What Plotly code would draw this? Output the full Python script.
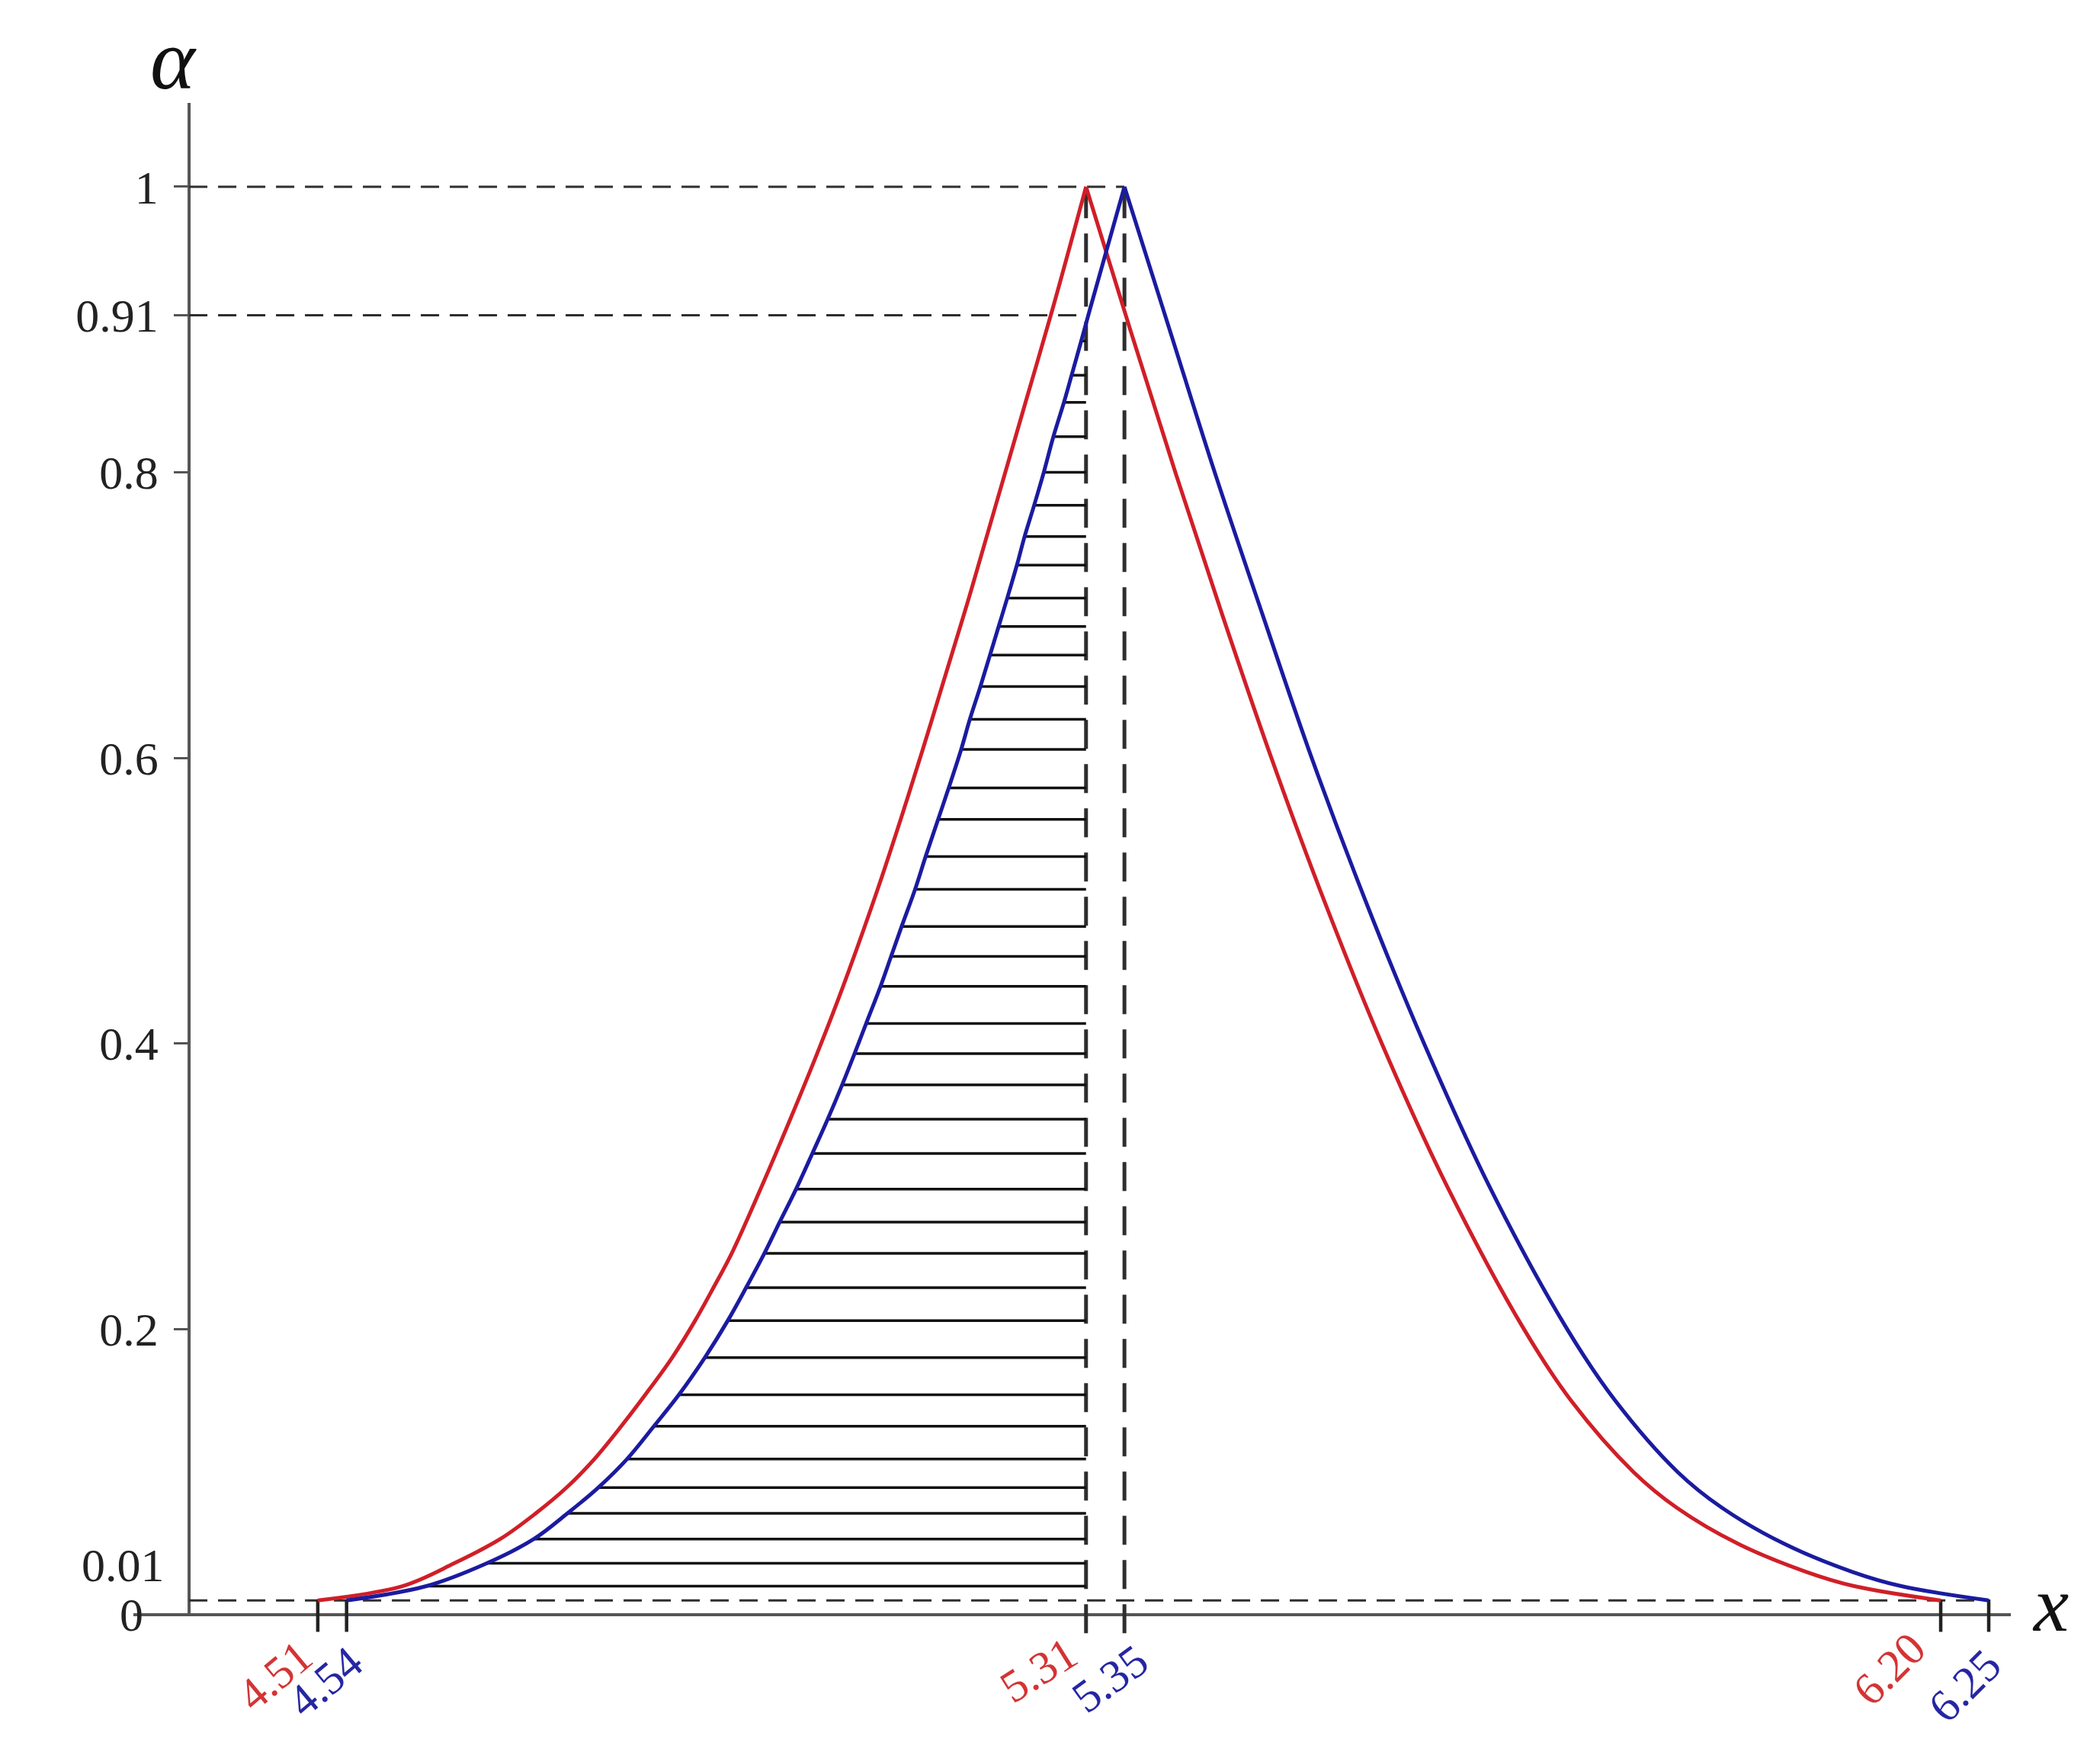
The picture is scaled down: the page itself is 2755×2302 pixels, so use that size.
import plotly.graph_objects as go

# ---------------- data ----------------
# triangular-like fuzzy numbers: (left end, peak, right end)
RED_TFN = [4.51, 5.31, 6.20]
BLUE_TFN = [4.54, 5.35, 6.25]

# red membership curve, left branch (alpha -> x)
RED_LEFT_ALPHA = [0.010, 0.020, 0.036, 0.053, 0.071, 0.089, 0.109, 0.132, 0.154, 0.180,
                  0.206, 0.229, 0.253, 0.298, 0.347, 0.393, 0.440, 0.508, 0.557, 0.606,
                  0.650, 0.712, 0.777, 0.849, 0.914, 1.000]
RED_LEFT_X = [4.510, 4.598, 4.652, 4.700, 4.737, 4.769, 4.798, 4.826, 4.851, 4.879,
              4.903, 4.922, 4.941, 4.971, 5.002, 5.030, 5.057, 5.093, 5.117, 5.140,
              5.160, 5.188, 5.216, 5.247, 5.275, 5.310]

# red membership curve, right branch
RED_RIGHT_ALPHA = [1.0, 0.9, 0.8, 0.7, 0.6, 0.5, 0.4, 0.3, 0.2, 0.15, 0.1, 0.075, 0.05,
                   0.03, 0.02, 0.01]
RED_RIGHT_X = [5.310, 5.356, 5.403, 5.452, 5.503, 5.558, 5.618, 5.686, 5.766, 5.815,
               5.880, 5.925, 5.988, 6.060, 6.110, 6.200]

# blue membership curve, left branch (also the left ends of the hatch lines)
BLUE_LEFT_ALPHA = [0.010, 0.020, 0.036, 0.053, 0.071, 0.089, 0.109, 0.132, 0.154, 0.180,
                   0.206, 0.229, 0.253, 0.275, 0.298, 0.323, 0.347, 0.371, 0.393, 0.414,
                   0.440, 0.461, 0.482, 0.508, 0.531, 0.557, 0.579, 0.606, 0.627, 0.650,
                   0.672, 0.692, 0.712, 0.735, 0.755, 0.777, 0.800, 0.825, 0.849, 0.868,
                   0.892, 0.914, 1.000]
BLUE_LEFT_X = [4.540, 4.623, 4.686, 4.735, 4.770, 4.802, 4.832, 4.860, 4.886, 4.913,
               4.937, 4.956, 4.975, 4.991, 5.008, 5.025, 5.041, 5.056, 5.069, 5.081,
               5.096, 5.107, 5.118, 5.132, 5.143, 5.156, 5.167, 5.180, 5.189, 5.200,
               5.210, 5.219, 5.228, 5.238, 5.246, 5.256, 5.266, 5.276, 5.287, 5.295,
               5.305, 5.314, 5.350]

# blue membership curve, right branch
BLUE_RIGHT_ALPHA = [1.0, 0.9, 0.8, 0.7, 0.6, 0.5, 0.4, 0.3, 0.2, 0.15, 0.1, 0.075, 0.05,
                    0.03, 0.02, 0.01]
BLUE_RIGHT_X = [5.350, 5.397, 5.444, 5.494, 5.545, 5.601, 5.662, 5.730, 5.811, 5.861,
                5.926, 5.972, 6.036, 6.108, 6.159, 6.250]

# alpha levels marked by dashed horizontal lines and their labels
LEVELS = [1.0, 0.91, 0.01]
Y_TICKS = [0.2, 0.4, 0.6, 0.8, 0.91, 1.0]
Y_TICK_TEXT = ["0.2", "0.4", "0.6", "0.8", "0.91", "1"]
X_TICK_TEXT = ["4.51", "4.54", "5.31", "5.35", "6.20", "6.25"]

# ---------------- styling ----------------
FONT = "Liberation Serif"
RED = "#d01f28"
BLUE = "#1b1ba0"
RED_TXT = "#d43434"
BLUE_TXT = "#2626a4"
AXIS_COL = "#555555"
DASH_COL = "#2e2e2e"

X_RANGE = [4.318, 6.273]
Y_RANGE = [-0.0267, 1.0587]
AXIS_X = 4.376                      # where the alpha axis crosses the x axis
AXIS_POS = (AXIS_X - X_RANGE[0]) / (X_RANGE[1] - X_RANGE[0])

fig = go.Figure()

# hatch lines (alpha-cuts from blue left branch to red peak)
hx, hy = [], []
for a, x in zip(BLUE_LEFT_ALPHA[1:-1], BLUE_LEFT_X[1:-1]):
    if x < RED_TFN[1]:
        hx += [x, RED_TFN[1], None]
        hy += [a, a, None]
fig.add_trace(go.Scatter(x=hx, y=hy, mode="lines",
                         line=dict(color="#111111", width=3.5), hoverinfo="skip"))

# membership curves
for xs, ys, col in [(RED_LEFT_X, RED_LEFT_ALPHA, RED), (RED_RIGHT_X, RED_RIGHT_ALPHA, RED),
                    (BLUE_LEFT_X, BLUE_LEFT_ALPHA, BLUE), (BLUE_RIGHT_X, BLUE_RIGHT_ALPHA, BLUE)]:
    fig.add_trace(go.Scatter(x=xs, y=ys, mode="lines",
                             line=dict(color=col, width=5, shape="spline", smoothing=1.0),
                             hoverinfo="skip"))

shapes = []
# axes
shapes.append(dict(type="line", xref="paper", yref="y", x0=0, x1=1, y0=0, y1=0,
                   line=dict(color=AXIS_COL, width=4), layer="below"))
shapes.append(dict(type="line", xref="x", yref="y", x0=AXIS_X, x1=AXIS_X, y0=0, y1=Y_RANGE[1],
                   line=dict(color=AXIS_COL, width=4), layer="below"))
# dashed alpha-level lines
level_ends = [BLUE_TFN[1], RED_TFN[1], BLUE_TFN[2]]
for lv, xe in zip(LEVELS, level_ends):
    shapes.append(dict(type="line", xref="x", yref="y", x0=AXIS_X, x1=xe, y0=lv, y1=lv,
                       line=dict(color=DASH_COL, width=3, dash="24px,14px"), layer="below"))
# dashed vertical lines through the peaks
for xp in [RED_TFN[1], BLUE_TFN[1]]:
    shapes.append(dict(type="line", xref="x", yref="y", x0=xp, x1=xp, y0=-0.013, y1=1.0,
                       line=dict(color=DASH_COL, width=5, dash="38px,20px"), layer="below"))
# short solid ticks at the support ends
for xt in [RED_TFN[0], BLUE_TFN[0], RED_TFN[2], BLUE_TFN[2]]:
    shapes.append(dict(type="line", xref="x", yref="y", x0=xt, x1=xt, y0=-0.012, y1=0.0107,
                       line=dict(color="#222222", width=4.5), layer="below"))

annotations = []
# x tick labels (coloured, rotated)
x_vals = [RED_TFN[0], BLUE_TFN[0], RED_TFN[1], BLUE_TFN[1], RED_TFN[2], BLUE_TFN[2]]
x_cols = [RED_TXT, BLUE_TXT, RED_TXT, BLUE_TXT, RED_TXT, BLUE_TXT]
x_angles = [-40, -40, -32, -36, -45, -45]
x_shift = [8, 36, 2, 46, -4, 32]
y_shift = [-18, -26, -14, -24, -8, -30]
for v, t, c, ang, dx, dy in zip(x_vals, X_TICK_TEXT, x_cols, x_angles, x_shift, y_shift):
    annotations.append(dict(x=v, y=0, xref="x", yref="y", text=t, showarrow=False,
                            textangle=ang, xanchor="right", yanchor="top",
                            xshift=dx, yshift=dy,
                            font=dict(family=FONT, size=60, color=c)))
# low alpha labels
annotations.append(dict(x=AXIS_POS, y=0.01, xref="paper", yref="y", text="0.01",
                        showarrow=False, xanchor="right", yanchor="middle",
                        xshift=-30, yshift=46, font=dict(family=FONT, size=62, color="#222222")))
annotations.append(dict(x=AXIS_POS, y=0, xref="paper", yref="y", text="0",
                        showarrow=False, xanchor="right", yanchor="middle",
                        xshift=-58, yshift=0, font=dict(family=FONT, size=62, color="#222222")))
# axis names
annotations.append(dict(x=0.0215, y=1.028, xref="paper", yref="paper", text="<i>α</i>",
                        showarrow=False, xanchor="center", yanchor="middle",
                        font=dict(family=FONT, size=112, color="#111111")))
annotations.append(dict(x=1.0211, y=0, xref="paper", yref="y", text="<i>x</i>",
                        showarrow=False, xanchor="center", yanchor="middle", yshift=14,
                        font=dict(family=FONT, size=104, color="#111111")))

fig.update_layout(
    width=2755, height=2302,
    margin=dict(l=167, r=125, t=127, b=142),
    paper_bgcolor="white", plot_bgcolor="white",
    showlegend=False,
    shapes=shapes, annotations=annotations,
    xaxis=dict(range=X_RANGE, showgrid=False, zeroline=False, showline=False,
               showticklabels=False, ticks=""),
    yaxis=dict(range=Y_RANGE, anchor="free", position=AXIS_POS,
               showgrid=False, zeroline=False, showline=False,
               tickmode="array", tickvals=Y_TICKS, ticktext=Y_TICK_TEXT,
               ticks="outside", ticklen=20, tickwidth=3, tickcolor=AXIS_COL,
               ticklabelstandoff=8,
               tickfont=dict(family=FONT, size=62, color="#222222")),
)

fig.write_html("out.html")
